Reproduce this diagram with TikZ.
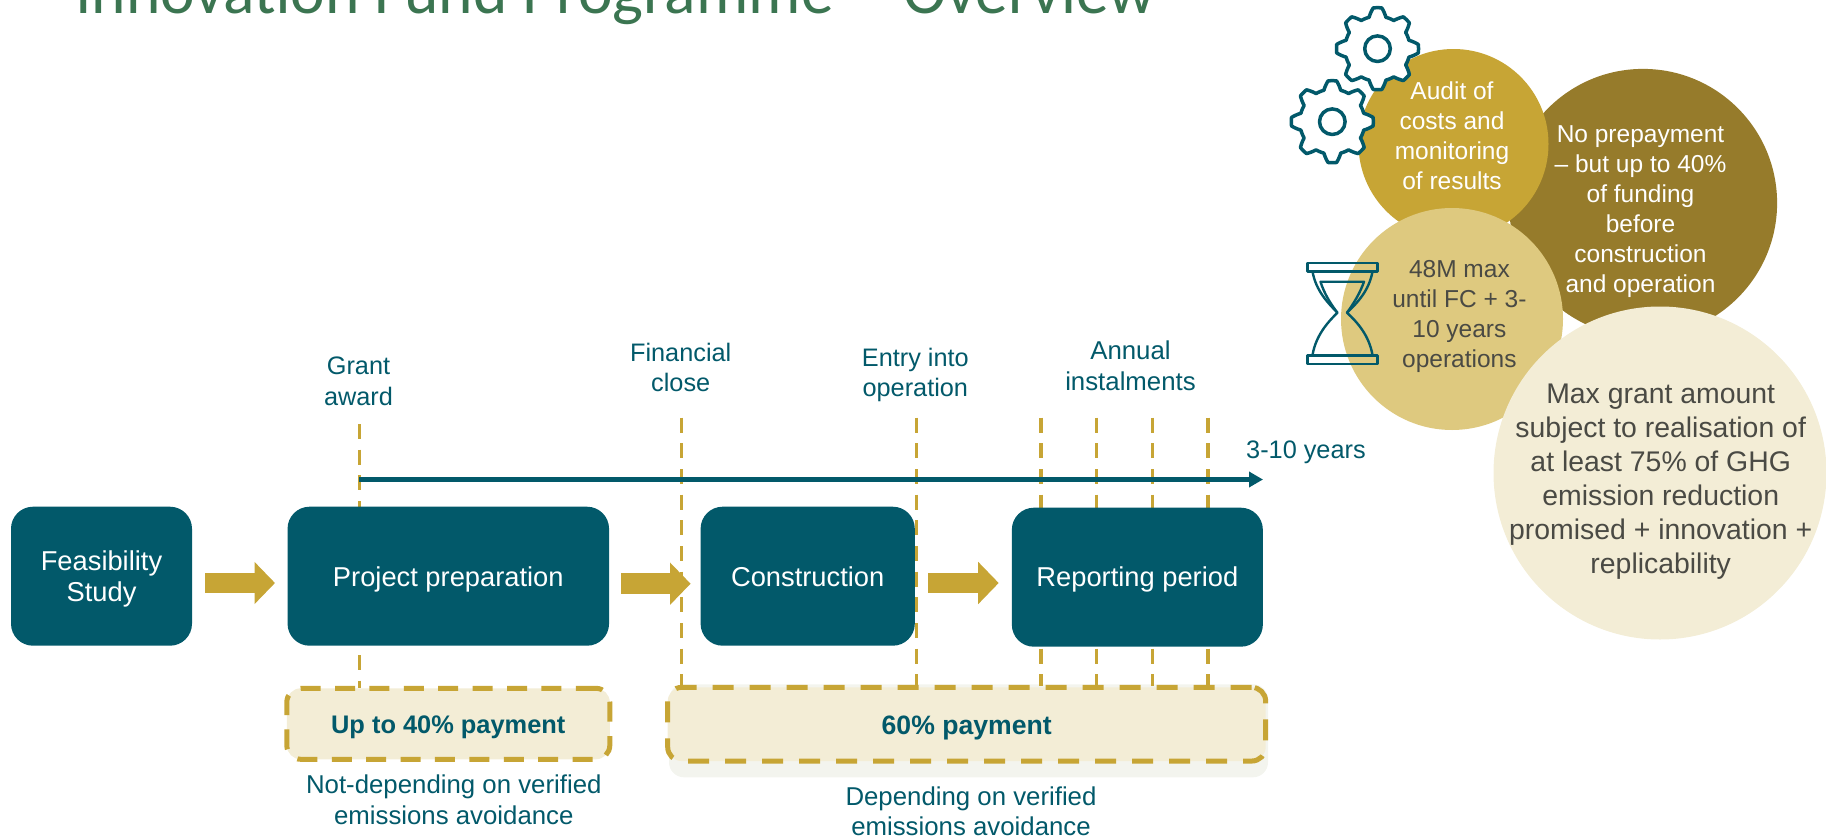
\documentclass[tikz,border=0pt]{standalone}
\usepackage{fontspec}
\usetikzlibrary{arrows.meta}
\setmainfont{Liberation Sans}
\newfontfamily\titlefont{Carlito}
\definecolor{teal}{HTML}{02596A}
\definecolor{gold}{HTML}{C7A535}
\definecolor{cream}{HTML}{F3EDD6}
\definecolor{darkgold}{HTML}{967B2B}
\definecolor{lightgold}{HTML}{DEC97F}
\definecolor{titlegreen}{HTML}{3B7551}
\definecolor{paleback}{HTML}{F3F4EE}
\definecolor{graytext}{HTML}{4A4A44}
\newcommand\ml[3]{\parbox[b]{#2pt}{\centering\baselineskip=#1pt\relax #3}}
\newcommand\placed[3]{\makebox[0pt]{\hspace*{#1pt}\hspace*{#1pt}\raisebox{-#2pt}[0pt][0pt]{#3}}}
\tikzset{
  tealbox/.style={fill=teal,rounded corners=22pt,inner sep=0pt,outer sep=0pt,text=white,font=\fontsize{27.3}{31}\selectfont},
  paybox/.style={fill=cream,draw=gold,line width=5pt,rounded corners=14pt,inner sep=0pt,outer sep=0pt,text=teal},
  tick/.style={draw=gold,line width=3.3pt,dash pattern=on 15pt off 10.67pt},
  label/.style={anchor=base,inner sep=0pt,text=teal,font=\fontsize{25.3}{30}\selectfont},
  wider/.style={font=\fontsize{25.8}{30}\selectfont},
  blockarrow/.style={draw=gold,line width=20.6pt,-{Triangle[length=20.5pt,width=41pt]}},
  timeline/.style={draw=teal,line width=4.4pt,-{Triangle[length=14pt,width=15pt]}},
  bubble/.style={circle,inner sep=0pt,outer sep=0pt},
  bubbletext/.style={font=\fontsize{24.5}{30}\selectfont},
  icon/.style={draw=teal,line join=round},
}
\begin{document}
\begin{tikzpicture}[x=1pt,y=-1pt]
\useasboundingbox (0,0) rectangle (1826,838);
\clip (0,0) rectangle (1826,838);

\node[anchor=base west,inner sep=0pt,text=titlegreen,font=\titlefont\fontsize{65.5}{70}\selectfont] (title) at (75,13) {Innovation Fund Programme -- Overview};

% pale backing of the 60% box
\node[fill=paleback,rounded corners=15pt,minimum width=599pt,minimum height=93pt,inner sep=0pt] (paleback) at (968.5,730.8) {};

% tick coordinates
\coordinate (gT) at (359.4,424);   \coordinate (gB) at (359.4,688);
\coordinate (fT) at (681.7,417.7); \coordinate (fB) at (681.7,686);
\coordinate (eT) at (916.8,417.7); \coordinate (eB) at (916.8,686);
\coordinate (a1T) at (1040.9,417.7); \coordinate (a1B) at (1040.9,686);
\coordinate (a2T) at (1096.6,417.7); \coordinate (a2B) at (1096.6,686);
\coordinate (a3T) at (1152.4,417.7); \coordinate (a3B) at (1152.4,686);
\coordinate (a4T) at (1208,417.7);   \coordinate (a4B) at (1208,686);
\foreach \t in {g,f,e,a1,a2,a3,a4} \draw[tick] (\t T) -- (\t B);

% timeline
\coordinate (tlS) at (359.4,479.5);
\coordinate (tlE) at (1263,479.5);
\draw[timeline] (tlS) -- (tlE);

% boxes
\node[tealbox,minimum width=181pt,minimum height=139pt] (feas) at (101.5,576.2) {\placed{0}{25.5}{\ml{31.6}{170}{Feasibility\\Study}}};
\node[tealbox,minimum width=321.5pt,minimum height=139pt] (prep) at (448.3,576.2) {\placed{0}{9.8}{Project preparation}};
\node[tealbox,minimum width=214.2pt,minimum height=139pt] (cons) at (807.7,576.2) {\placed{0}{9.8}{Construction}};
\node[tealbox,minimum width=251pt,minimum height=139pt] (rep) at (1137.35,577.2) {\placed{0}{9.5}{Reporting period}};

% block arrows
\coordinate (b1S) at (205,583); \coordinate (b1E) at (275,583);
\coordinate (b2S) at (621.4,583.7); \coordinate (b2E) at (690.6,583.7);
\coordinate (b3S) at (928.4,583); \coordinate (b3E) at (998.7,583);
\draw[blockarrow] (b1S) -- (b1E);
\draw[blockarrow] (b2S) -- (b2E);
\draw[blockarrow] (b3S) -- (b3E);

% payment boxes
\node[paybox,minimum width=323pt,minimum height=71pt,dash pattern=on 20pt off 14.4pt,font=\bfseries\fontsize{25.4}{30}\selectfont] (pay40) at (448.3,723.8) {\placed{0}{9.4}{Up to 40\% payment}};
\node[paybox,minimum width=598pt,minimum height=73.7pt,dash pattern=on 21pt off 16pt,font=\bfseries\fontsize{26.6}{30}\selectfont] (pay60) at (966.7,724.2) {\placed{0}{10}{60\% payment}};

% labels
\node[label] (grant) at (358.5,405) {\ml{30.7}{200}{Grant\\award}};
\node[label] (fin) at (680.7,391.7) {\ml{30.7}{200}{Financial\\close}};
\node[label] (entry) at (915.3,396.7) {\ml{30}{200}{Entry into\\operation}};
\node[label,wider] (annual) at (1130.5,390) {\ml{30.7}{200}{Annual\\instalments}};
\node[label,anchor=base west] (years) at (1246,458) {3-10 years};
\node[label,wider] (notdep) at (453.8,824) {\ml{31}{400}{Not-depending on verified\\emissions avoidance}};
\node[label,wider] (dep) at (971,835.5) {\ml{30.5}{400}{Depending on verified\\emissions avoidance}};

% bubbles
\node[bubble,fill=darkgold,minimum size=268.2pt,text=white,bubbletext] (noprep) at (1643,203) {\placed{-2.5}{89.7}{\ml{30}{230}{No prepayment\\-- but up to 40\%\\of funding\\before\\construction\\and operation}}};
\node[bubble,fill=gold,minimum size=190pt,text=white,bubbletext] (audit) at (1453.5,144) {\placed{-1.5}{45.6}{\ml{30}{170}{Audit of\\costs and\\monitoring\\of results}}};
\node[bubble,fill=lightgold,minimum size=222pt,text=graytext,bubbletext] (time) at (1452,319) {\placed{7.4}{48}{\ml{30}{170}{48M max\\until FC + 3-\\10 years\\operations}}};
\node[bubble,fill=cream,minimum size=333pt,text=graytext,font=\fontsize{28.4}{34}\selectfont] (maxg) at (1660,473) {\placed{0.7}{100.7}{\ml{34}{320}{Max grant amount\\subject to realisation of\\at least 75\% of GHG\\emission reduction\\promised + innovation +\\replicability}}};

% gears
\foreach \gx/\gy in {1377.5/48.7,1332.3/121.7}{
  \draw[icon,fill=white,line width=3.5pt,shift={(\gx,\gy)}] plot[domain=0:359,samples=360] (\x:{32.5+8.5*max(0,min(1,(15-abs(mod(\x+22.5,45)-22.5))/9))}) -- cycle;
  \draw[icon,line width=3.5pt,shift={(\gx,\gy)}] (0,0) circle (12.8);
}

% hourglass
\draw[icon,line width=2.8pt] (1307.5,263) rectangle (1377.5,271.5);
\draw[icon,line width=2.8pt] (1307.5,355.5) rectangle (1377.5,364);
\draw[icon,line width=2.4pt] (1312.5,271.5) .. controls (1316,291) and (1328,303) .. (1337.4,312.7) .. controls (1328,322) and (1316,335) .. (1312.5,355);
\draw[icon,line width=2.4pt] (1372.5,271.5) .. controls (1369,291) and (1357,303) .. (1347,312.7) .. controls (1357,322) and (1369,335) .. (1372.5,355);
\draw[icon,line width=2.4pt] (1337.4,312.7) .. controls (1330,303) and (1324,293) .. (1320.5,281.7) -- (1364,281.7) .. controls (1360,293) and (1354,303) .. (1347,312.7);
\end{tikzpicture}
\end{document}
